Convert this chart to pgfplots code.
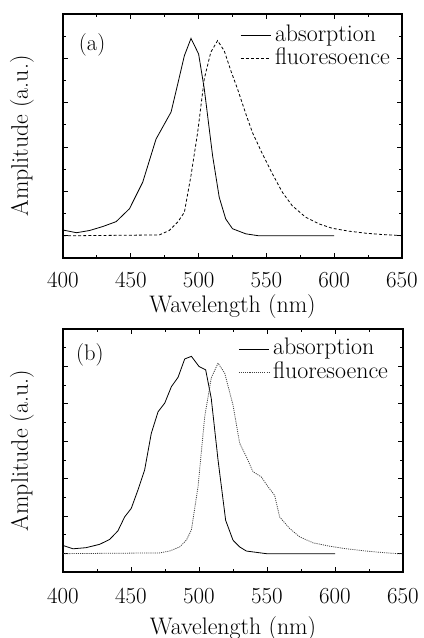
\documentclass[border=0pt]{standalone}
\usepackage{pgfplots}
\pgfplotsset{compat=1.18}

% absorption / fluorescence spectra
\pgfplotstableread{
x y
400 0.13
410 0.07
419.6 0.12
429.4 0.21
439.2 0.32
449 0.61
458.8 1.21
468.6 2.18
473.5 2.45
479.7 2.79
484.6 3.42
489.5 4.06
494.4 4.45
500 4.10
504.2 3.31
510.3 1.81
515.2 0.87
520 0.38
525 0.16
534.8 0.045
544.6 0
600 0
}\absA
\pgfplotstableread{
x y
400 0
471 0.02
478.4 0.12
484.6 0.31
489.5 0.53
494.4 1.36
499.3 2.33
504.2 3.54
509 4.14
514 4.40
518.9 4.17
523.8 3.72
528.7 3.31
534.8 2.75
539.7 2.33
547 1.85
554.4 1.40
561.8 0.98
569 0.68
578.9 0.42
588.7 0.27
598.5 0.17
610.8 0.105
623 0.06
635 0.03
647.5 0.01
650 0
}\fluA
\pgfplotstableread{
x y
400 0.22
407.4 0.13
417 0.16
427 0.25
434.3 0.38
440.4 0.61
445.3 0.98
450.2 1.21
455.1 1.70
460 2.23
464.9 3.21
469.9 3.79
474.8 4.02
479.7 4.46
484.6 4.71
489.5 5.20
494.4 5.27
500 5.00
504.9 4.91
509 4.15
514 2.50
519.6 0.89
525 0.36
529.9 0.18
534.8 0.07
549.5 0
600 0
}\absB
\pgfplotstableread{
x y
400 0
471 0.02
478.4 0.07
485.8 0.18
490.7 0.36
494.4 0.63
499.3 1.79
504.2 3.66
509 4.69
514 5.09
518.9 4.82
525 3.97
529.9 2.95
534.8 2.59
539.7 2.19
545.8 2.05
550.7 1.79
555.6 1.56
559.3 0.98
566.7 0.67
574 0.45
583.8 0.29
596 0.20
608.3 0.13
623 0.07
635 0.03
646.3 0
650 0
}\fluB

\pgfplotsset{
  spec/.style={
    scale only axis,
    anchor=south west,
    xmin=400, xmax=650,
    xtick={400,450,...,650},
    minor x tick num=1, minor y tick num=1,
    ytick={0,...,6}, yticklabels={},
    tick align=inside,
    major tick length=4bp, minor tick length=2.2bp,
    axis line style={line width=0.9bp},
    every tick/.style={line width=0.7bp, black},
    tick label style={font=\fontsize{16.5}{19}\selectfont},
    label style={font=\fontsize{18}{21}\selectfont},
    xticklabel style={anchor=base, yshift=-21.75bp},
    ylabel={Amplitude (a.u.)},
    ylabel style={at={([xshift=-30.75bp]axis description cs:0,0.5)}, anchor=center},
    xlabel={Wavelength (nm)},
    legend style={draw=none, fill=none, inner sep=0pt, row sep=2bp,
      nodes={inner sep=0pt, text height=12pt, text depth=3.5pt, anchor=west},
      font=\fontsize{18}{21}\selectfont},
    legend cell align=left,
    legend image code/.code={\draw[#1] (0bp,0bp) -- (22.5bp,0bp);},
  },
}

\begin{document}
\begin{tikzpicture}
\useasboundingbox (0,0) rectangle (318bp,-478.5bp);

\begin{axis}[spec,
  at={(47.25bp,-193.5bp)}, width=254.25bp, height=183bp,
  ymin=-0.5, ymax=5,
  xlabel style={at={(axis description cs:0.5,0)}, anchor=base, yshift=-41bp},
  legend style={at={(axis description cs:0.522,0.955)}, anchor=north west},
]
\addplot[black, line width=0.6bp] table {\absA};
\addlegendentry{\,absorption}
\addplot[black, line width=0.6bp, dash pattern=on 2.2bp off 1.6bp] table {\fluA};
\addlegendentry{\,fluoresoence}
\node[font=\fontsize{17}{20}\selectfont] at (axis description cs:0.086,0.873) {(a)};
\end{axis}

\begin{axis}[spec,
  at={(47.25bp,-429bp)}, width=255bp, height=182.25bp,
  ymin=-0.49, ymax=6,
  xticklabel style={yshift=-1.5bp},
  xlabel style={at={(axis description cs:0.5,0)}, anchor=base, yshift=-47bp},
  legend style={at={(axis description cs:0.515,0.96)}, anchor=north west},
]
\addplot[black, line width=0.6bp] table {\absB};
\addlegendentry{\,absorption}
\addplot[black!75, line width=0.6bp, dash pattern=on 0.8bp off 0.8bp] table {\fluB};
\addlegendentry{\,fluoresoence}
\node[font=\fontsize{17}{20}\selectfont] at (axis description cs:0.079,0.893) {(b)};
\end{axis}
\end{tikzpicture}
\end{document}
